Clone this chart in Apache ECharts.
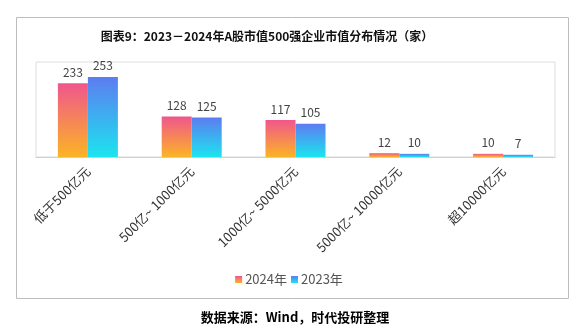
<!DOCTYPE html>
<html>
<head>
<meta charset="utf-8">
<style>
  html, body { margin: 0; padding: 0; background: #fff; }
  #chart { width: 578px; height: 333px; }
</style>
<script src="https://cdn.jsdelivr.net/npm/echarts@6/dist/echarts.min.js"></script>
</head>
<body>
<div id="chart"></div>
<script>
// Number of A-share top-500 companies by market-cap bracket
const categories = ['低于500亿元', '500亿~ 1000亿元', '1000亿~ 5000亿元', '5000亿~ 10000亿元', '超10000亿元'];
const values2024 = [233, 128, 117, 12, 10];
const values2023 = [253, 125, 105, 10, 7];
const seriesNames = ['2024年', '2023年'];

const FONT = '"Noto Sans CJK SC", "Noto Sans", sans-serif';

function vGrad(top, bottom) {
  return new echarts.graphic.LinearGradient(0, 0, 0, 1, [
    { offset: 0, color: top },
    { offset: 1, color: bottom }
  ]);
}

const chart = echarts.init(document.getElementById('chart'), null, { renderer: 'canvas' });

const labelStyle = {
  show: true,
  position: 'top',
  distance: 5,
  color: '#444',
  fontSize: 12,
  fontFamily: FONT
};

chart.setOption({
  backgroundColor: '#fff',
  animation: false,
  title: [
    {
      text: '图表9：2023－2024年A股市值500强企业市值分布情况（家）',
      left: 262,
      textAlign: 'center',
      top: 25,
      textStyle: { fontSize: 12, fontWeight: 'bold', color: '#111', fontFamily: FONT }
    },
    {
      text: '数据来源：Wind，时代投研整理',
      left: 290,
      textAlign: 'center',
      top: 306,
      textStyle: { fontSize: 13, fontWeight: 'bold', color: '#000', fontFamily: FONT }
    }
  ],
  graphic: [
    {
      type: 'rect',
      shape: { x: 16.5, y: 17.5, width: 552, height: 281 },
      style: { fill: 'none', stroke: '#bdbdbd', lineWidth: 1 },
      silent: true
    }
  ],
  legend: {
    data: seriesNames,
    left: 'center',
    top: 268,
    itemWidth: 7,
    itemHeight: 7,
    itemGap: 4,
    icon: 'rect',
    textStyle: { fontSize: 13, color: '#555', fontFamily: FONT, padding: [0, 0, 0, -2] }
  },
  grid: {
    left: 36,
    right: 23,
    top: 62,
    bottom: 176,
    show: true,
    borderColor: '#dedede',
    borderWidth: 1
  },
  xAxis: {
    type: 'category',
    data: categories,
    axisLine: { show: true, lineStyle: { color: '#cfcfcf' } },
    axisTick: { show: false },
    axisLabel: {
      rotate: 45,
      interval: 0,
      margin: 12,
      fontSize: 13,
      color: '#333',
      fontFamily: FONT
    }
  },
  yAxis: {
    type: 'value',
    min: 0,
    max: 300,
    show: false,
    splitLine: { show: false }
  },
  series: [
    {
      name: seriesNames[0],
      type: 'bar',
      data: values2024,
      barWidth: 30,
      barGap: '0%',
      itemStyle: { color: vGrad('#f0568d', '#fbb425') },
      label: labelStyle
    },
    {
      name: seriesNames[1],
      type: 'bar',
      data: values2023,
      barWidth: 30,
      barGap: '0%',
      itemStyle: { color: vGrad('#5d7cf1', '#1ce4ef') },
      label: labelStyle
    }
  ]
});
</script>
</body>
</html>
